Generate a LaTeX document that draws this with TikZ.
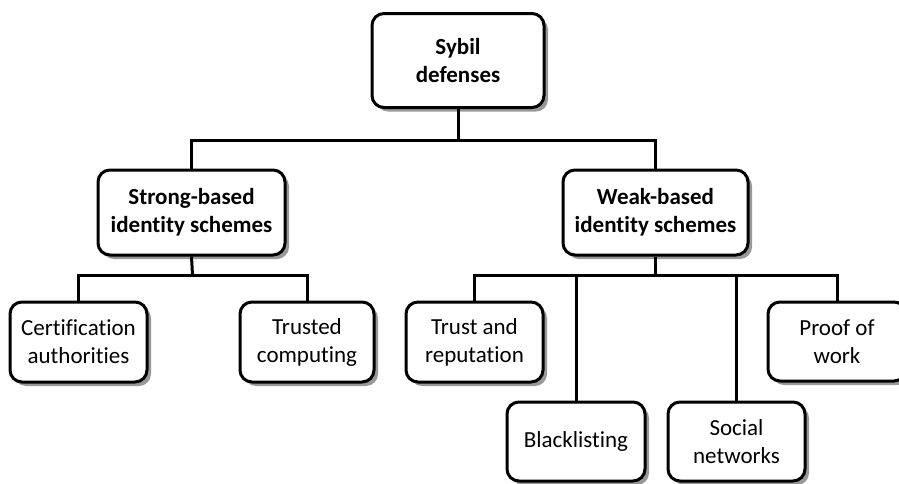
\documentclass[tikz,border=0pt]{standalone}
\usepackage{fontspec}
\setmainfont{Carlito}[Ligatures={NoCommon}]
\usetikzlibrary{shadows}
\begin{document}
\begin{tikzpicture}[x=1pt,y=-1pt,
  box/.style={draw=black, line width=3pt, rounded corners=12pt, fill=white,
    align=center, inner sep=0pt, minimum height=80pt,
    font=\fontsize{23}{28}\selectfont,
    drop shadow={shadow xshift=4pt, shadow yshift=-4pt, fill=black!40, opacity=1}},
  conn/.style={draw=black, line width=3pt}]
\useasboundingbox (0,0) rectangle (899,483);
\clip (0,0) rectangle (899,483);
% top
\node[box, minimum width=172pt, minimum height=94pt, font=\fontsize{23}{28}\selectfont\bfseries] (root) at (458,60.5) {Sybil\\defenses};
\node[box, minimum width=187pt, minimum height=85pt, font=\fontsize{23}{28}\selectfont\bfseries] (strong) at (191.5,212.5) {Strong-based\\identity schemes};
\node[box, minimum width=185pt, minimum height=85pt, font=\fontsize{23}{28}\selectfont\bfseries] (weak) at (655.5,212.5) {Weak-based\\identity schemes};
% leaves
\node[box, minimum width=137pt] (cert) at (78.5,342) {Certification\\authorities};
\node[box, minimum width=134pt] (trusted) at (307,342) {Trusted\\computing};
\node[box, minimum width=137pt] (trust) at (474.5,342) {Trust and\\reputation};
\node[box, minimum width=138pt, minimum height=79pt] (proof) at (837,341.5) {Proof of\\work};
\node[box, minimum width=138pt, minimum height=79pt] (black) at (576,441.5) {Blacklisting};
\node[box, minimum width=137pt, minimum height=79pt] (social) at (736.5,441.5) {Social\\networks};
% buses
\coordinate (busA) at (458,140);
\coordinate (busB) at (192.5,275);
\coordinate (busC) at (655.5,275);
\draw[conn] (root.south) -- (busA);
\draw[conn] (strong.north) |- (busA) -| (weak.north);
\draw[conn] (strong.south) -- (busB);
\draw[conn] (cert.north) |- (busB) -| (trusted.north);
\draw[conn] (weak.south) -- (busC);
\draw[conn] (trust.north) |- (busC) -| (proof.north);
\draw[conn] (black.north) -- (black.north |- busC);
\draw[conn] (social.north) -- (social.north |- busC);
\end{tikzpicture}
\end{document}
